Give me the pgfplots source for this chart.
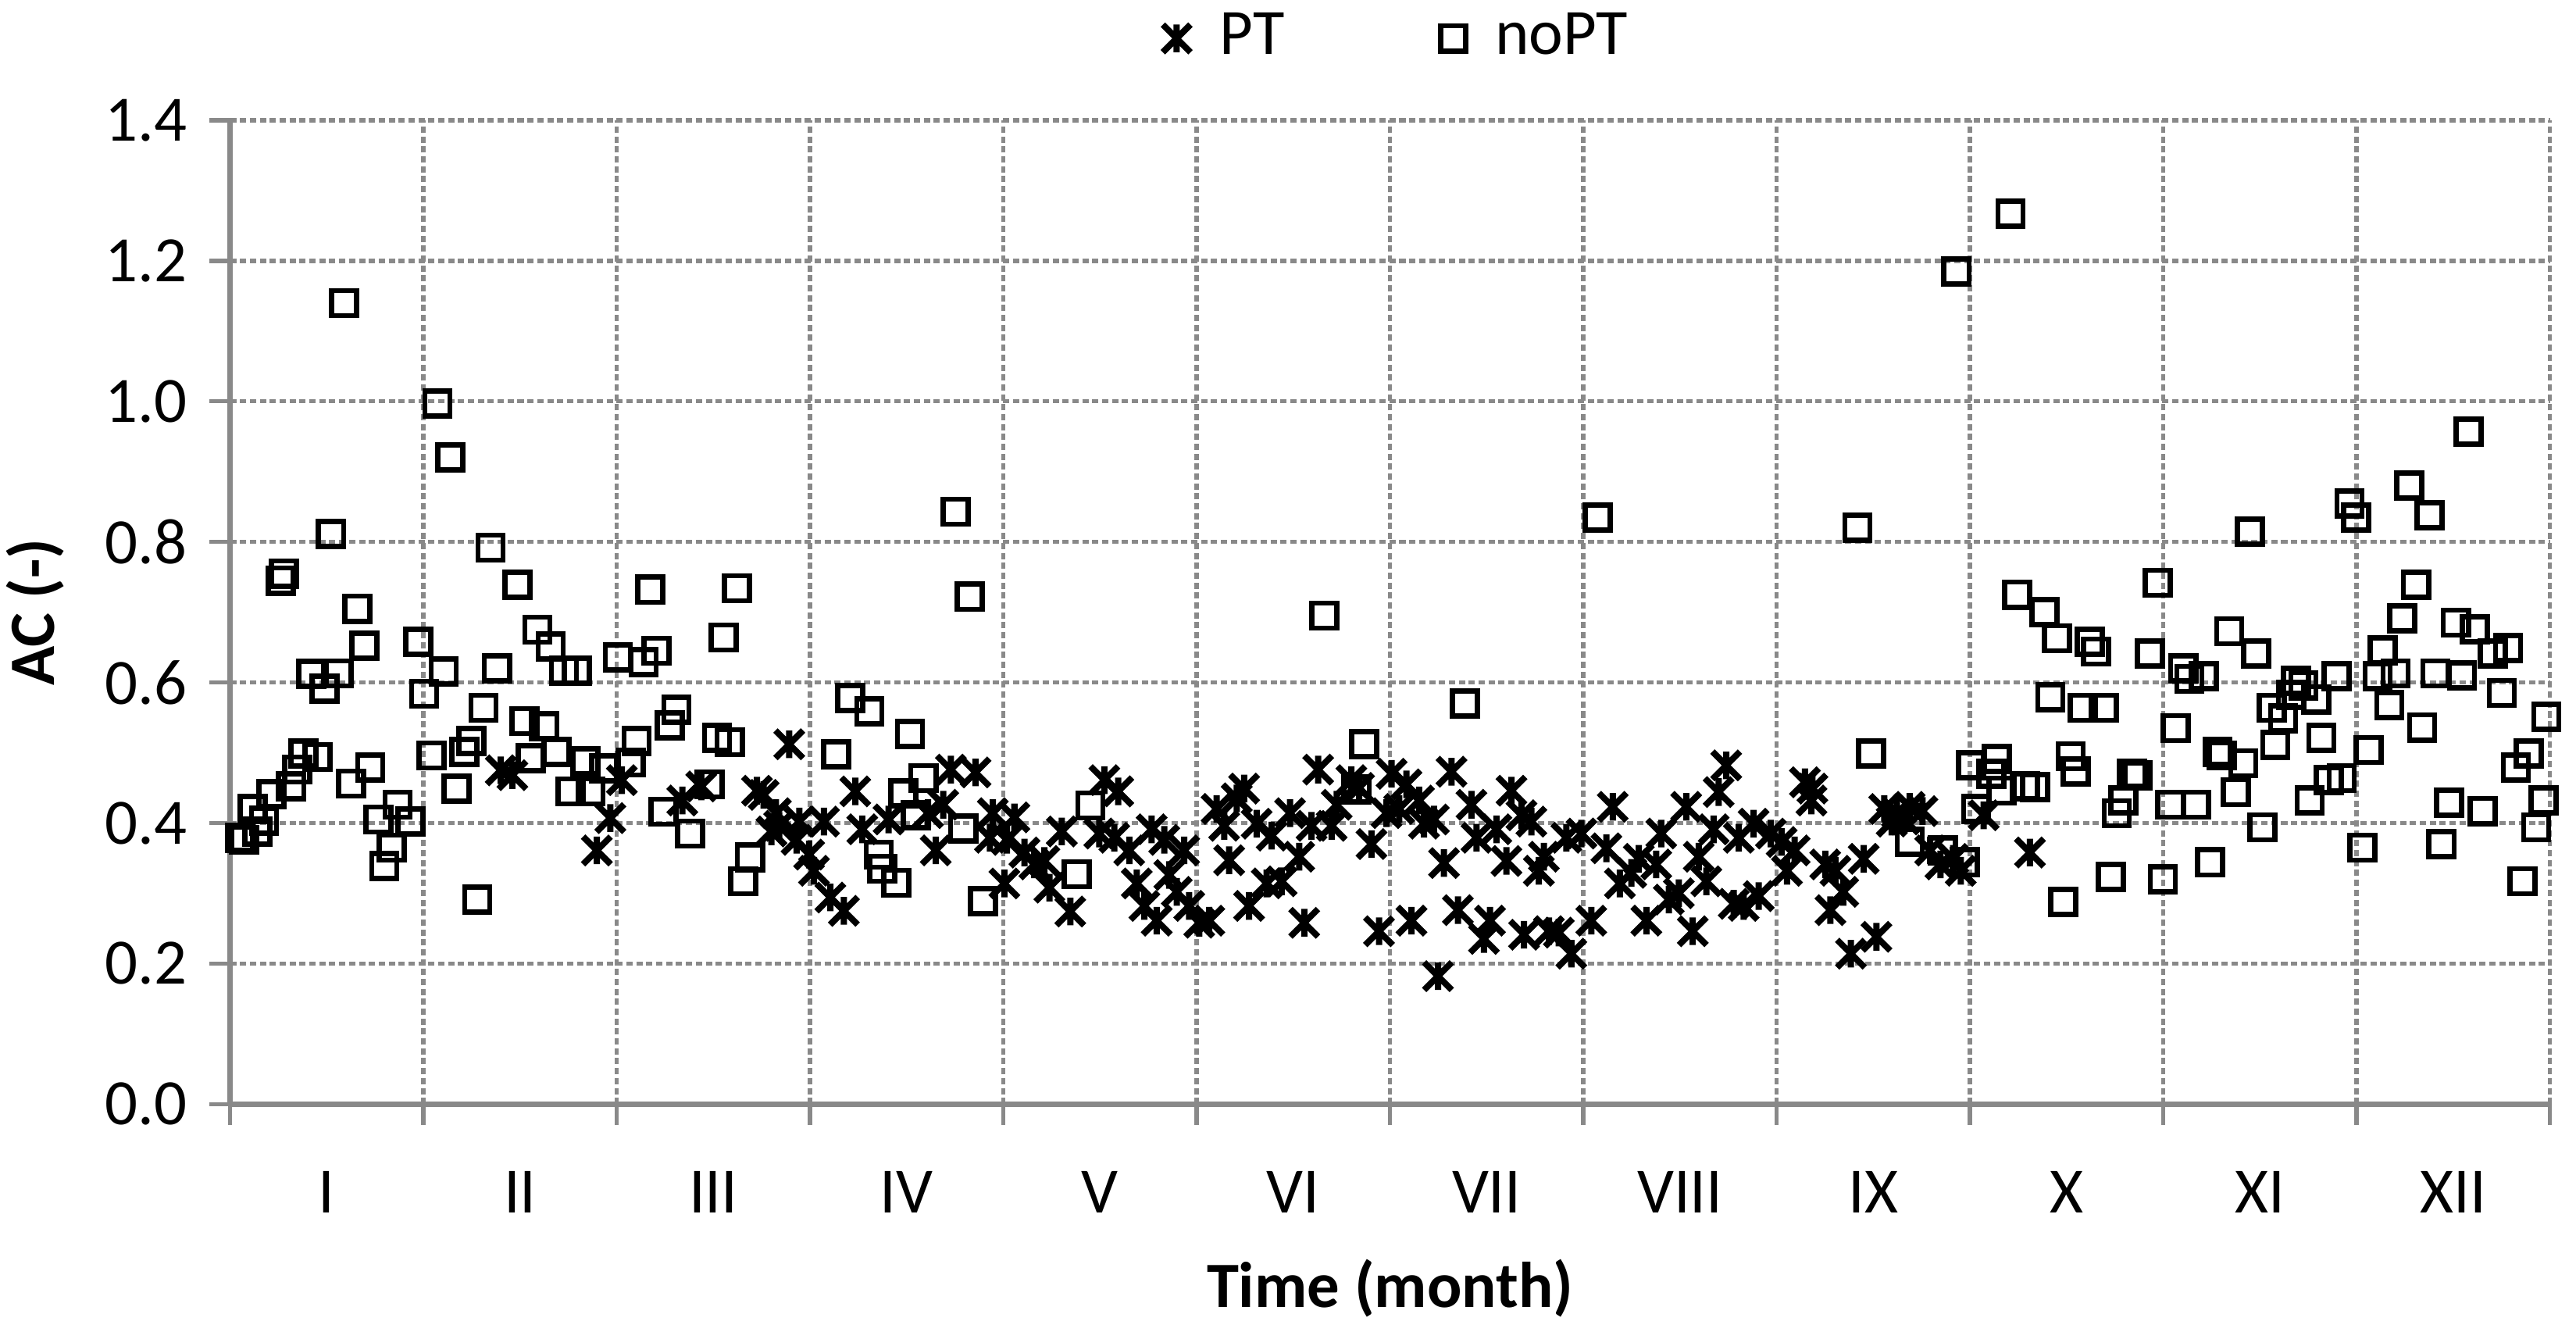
\documentclass[border=0pt]{standalone}
\usepackage{fontspec}
\setmainfont{Carlito}
\usepackage{pgfplots}
\pgfplotsset{compat=1.18}
\usepackage{pgfplotstable}
\usetikzlibrary{calc}
\definecolor{axgray}{RGB}{137,137,137}
\pgfdeclareplotmark{xstar}{%
  \pgfpathmoveto{\pgfqpoint{-\pgfplotmarksize}{-\pgfplotmarksize}}%
  \pgfpathlineto{\pgfqpoint{\pgfplotmarksize}{\pgfplotmarksize}}%
  \pgfpathmoveto{\pgfqpoint{-\pgfplotmarksize}{\pgfplotmarksize}}%
  \pgfpathlineto{\pgfqpoint{\pgfplotmarksize}{-\pgfplotmarksize}}%
  \pgfpathmoveto{\pgfqpoint{0pt}{-\pgfplotmarksize}}%
  \pgfpathlineto{\pgfqpoint{0pt}{\pgfplotmarksize}}%
  \pgfusepathqstroke
}

\pgfplotstableread{
m v
1.400 0.475
1.460 0.468
1.897 0.361
1.967 0.407
2.026 0.461
2.339 0.432
2.437 0.452
2.725 0.446
2.760 0.440
2.800 0.388
2.823 0.414
2.840 0.396
2.892 0.512
2.930 0.376
2.944 0.402
2.995 0.355
3.020 0.332
3.072 0.402
3.105 0.294
3.175 0.275
3.234 0.445
3.270 0.391
3.406 0.405
3.610 0.414
3.650 0.361
3.689 0.426
3.728 0.476
3.856 0.472
3.930 0.379
3.945 0.414
4.005 0.314
4.018 0.376
4.057 0.408
4.109 0.358
4.160 0.341
4.212 0.346
4.238 0.308
4.302 0.388
4.346 0.274
4.496 0.385
4.522 0.461
4.574 0.379
4.594 0.445
4.651 0.361
4.690 0.314
4.729 0.282
4.767 0.391
4.793 0.261
4.832 0.376
4.858 0.326
4.897 0.302
4.935 0.361
4.961 0.282
5.013 0.258
5.065 0.261
5.103 0.420
5.142 0.396
5.168 0.347
5.207 0.435
5.245 0.449
5.271 0.282
5.310 0.399
5.362 0.314
5.388 0.382
5.439 0.317
5.483 0.414
5.530 0.352
5.556 0.258
5.594 0.396
5.628 0.476
5.698 0.396
5.724 0.426
5.800 0.461
5.840 0.450
5.904 0.370
5.943 0.246
5.982 0.414
6.008 0.470
6.047 0.420
6.085 0.455
6.111 0.261
6.150 0.432
6.176 0.399
6.227 0.405
6.248 0.182
6.279 0.343
6.318 0.473
6.351 0.276
6.421 0.426
6.447 0.379
6.486 0.235
6.517 0.261
6.550 0.391
6.602 0.346
6.628 0.446
6.680 0.411
6.693 0.241
6.731 0.402
6.770 0.332
6.796 0.352
6.822 0.246
6.873 0.244
6.912 0.379
6.938 0.214
6.990 0.385
7.041 0.261
7.119 0.364
7.152 0.423
7.189 0.314
7.248 0.329
7.287 0.349
7.326 0.261
7.377 0.341
7.403 0.385
7.442 0.291
7.494 0.300
7.532 0.423
7.566 0.246
7.597 0.352
7.636 0.317
7.674 0.391
7.700 0.444
7.739 0.482
7.778 0.285
7.804 0.379
7.829 0.282
7.881 0.399
7.907 0.296
7.970 0.385
8.026 0.373
8.053 0.332
8.093 0.361
8.146 0.458
8.180 0.432
8.185 0.449
8.251 0.341
8.278 0.276
8.304 0.332
8.344 0.302
8.384 0.214
8.450 0.349
8.516 0.238
8.556 0.420
8.595 0.402
8.622 0.414
8.661 0.405
8.688 0.423
8.754 0.417
8.794 0.361
8.847 0.341
8.913 0.349
8.952 0.332
9.071 0.411
9.310 0.358
}\ptdata

\pgfplotstableread{
m v
0.051 0.379
0.072 0.376
0.116 0.420
0.141 0.388
0.175 0.403
0.213 0.441
0.262 0.745
0.278 0.755
0.316 0.452
0.347 0.476
0.380 0.499
0.419 0.612
0.452 0.494
0.488 0.591
0.522 0.811
0.560 0.613
0.589 1.140
0.625 0.456
0.658 0.705
0.694 0.652
0.725 0.479
0.766 0.405
0.797 0.339
0.835 0.365
0.866 0.426
0.933 0.402
0.972 0.658
1.003 0.584
1.041 0.496
1.072 0.997
1.105 0.616
1.139 0.920
1.172 0.449
1.211 0.501
1.247 0.517
1.278 0.291
1.311 0.564
1.347 0.792
1.380 0.620
1.486 0.739
1.522 0.545
1.555 0.492
1.589 0.675
1.625 0.538
1.658 0.651
1.689 0.501
1.727 0.617
1.761 0.445
1.794 0.617
1.838 0.488
1.864 0.445
1.936 0.478
2.005 0.636
2.072 0.486
2.103 0.517
2.139 0.629
2.172 0.732
2.206 0.645
2.242 0.416
2.275 0.539
2.308 0.561
2.380 0.385
2.480 0.455
2.519 0.521
2.553 0.664
2.584 0.515
2.622 0.734
2.653 0.317
2.689 0.351
3.136 0.498
3.208 0.578
3.306 0.559
3.355 0.355
3.373 0.335
3.445 0.315
3.483 0.442
3.517 0.527
3.548 0.411
3.586 0.464
3.753 0.843
3.792 0.392
3.825 0.722
3.895 0.289
4.380 0.327
4.450 0.425
5.659 0.695
5.827 0.448
5.866 0.512
6.388 0.570
7.075 0.835
8.418 0.820
8.489 0.499
8.688 0.373
8.860 0.361
8.930 1.185
8.974 0.344
9.005 0.482
9.032 0.420
9.111 0.470
9.138 0.491
9.164 0.446
9.210 1.267
9.243 0.725
9.283 0.452
9.336 0.451
9.384 0.700
9.415 0.579
9.450 0.663
9.481 0.288
9.521 0.495
9.548 0.473
9.582 0.564
9.619 0.658
9.653 0.644
9.693 0.564
9.728 0.323
9.759 0.414
9.794 0.432
9.839 0.470
9.865 0.468
9.931 0.641
9.971 0.742
9.997 0.320
10.037 0.426
10.063 0.535
10.103 0.620
10.135 0.605
10.169 0.426
10.209 0.609
10.243 0.344
10.280 0.501
10.302 0.496
10.341 0.673
10.376 0.444
10.413 0.485
10.447 0.815
10.481 0.641
10.513 0.394
10.561 0.564
10.579 0.511
10.619 0.549
10.660 0.582
10.685 0.602
10.725 0.596
10.757 0.432
10.791 0.576
10.817 0.521
10.857 0.461
10.897 0.609
10.923 0.464
10.963 0.855
10.997 0.835
11.030 0.365
11.063 0.504
11.108 0.609
11.135 0.646
11.169 0.568
11.201 0.613
11.235 0.691
11.272 0.880
11.307 0.739
11.339 0.536
11.376 0.838
11.407 0.613
11.439 0.370
11.479 0.429
11.513 0.685
11.545 0.610
11.579 0.957
11.611 0.676
11.651 0.417
11.704 0.641
11.751 0.585
11.783 0.649
11.823 0.479
11.857 0.317
11.889 0.499
11.929 0.394
11.968 0.432
11.981 0.551
}\noptdata

\begin{document}
\fontsize{12.4}{14.9}\selectfont
\begin{tikzpicture}
\begin{axis}[
  name=ax,
  scale only axis,
  width=444.85pt, height=188.6pt,
  xmin=0, xmax=12, ymin=0, ymax=1.4,
  axis x line*=bottom, axis y line*=left,
  axis line style={draw=axgray, line width=1pt},
  tick align=outside,
  major tick length=4pt,
  tick style={draw=axgray, line width=0.8pt},
  xtick={0,1,...,12}, xticklabels={},
  extra x ticks={0.5,1.5,...,11.5},
  extra x tick labels={I,II,III,IV,V,VI,VII,VIII,IX,X,XI,XII},
  extra x tick style={grid=none, major tick length=0pt, tick style={draw=none},
     xticklabel style={anchor=base, yshift=-20.8pt}},
  ytick={0,0.2,0.4,0.6,0.8,1.0,1.2,1.4},
  yticklabel style={/pgf/number format/.cd, fixed, fixed zerofill, precision=1},
  /pgf/number format/assume math mode=true,
  grid=major,
  major grid style={draw=axgray, line width=0.8pt, dash pattern=on 1.2pt off 0.7pt},
  tick label style={font=\fontsize{12.4}{14.9}\selectfont, text=black},
  label style={font=\bfseries\fontsize{12.4}{14.9}\selectfont},
  xlabel={Time (month)},
  ylabel={AC (-)},
  xlabel style={at={(axis description cs:0.5,-0.2067)}, anchor=base},
  ylabel style={at={(axis description cs:-0.0757,0.5)}, anchor=base},
  legend columns=2,
  legend style={draw=none, fill=none, at={(axis description cs:0.5045,1.0456)}, anchor=south,
     font=\fontsize{12.4}{14.9}\selectfont, inner sep=0pt,
     /tikz/every odd column/.append style={column sep=3.6pt},
     /tikz/every even column/.append style={column sep=28pt}},
  legend image code/.code={\draw[mark repeat=2,mark phase=2,#1] plot coordinates {(0pt,0pt)(2.9pt,0pt)(5.8pt,0pt)};},
]
\addplot[only marks, mark=xstar, mark size=2.65pt, mark options={line width=1.2pt, draw=black}] table[x=m, y=v] {\ptdata};
\addlegendentry{PT}
\addplot[only marks, mark=square, mark size=2.4pt, mark options={line width=1pt, draw=black, fill=none}] table[x=m, y=v] {\noptdata};
\addlegendentry{noPT}
\end{axis}
\pgfresetboundingbox
\path[use as bounding box] ($(ax.south west)+(-44.13pt,-43.7pt)$) rectangle ($(ax.north east)+(5.0pt,23.07pt)$);
\end{tikzpicture}
\end{document}
